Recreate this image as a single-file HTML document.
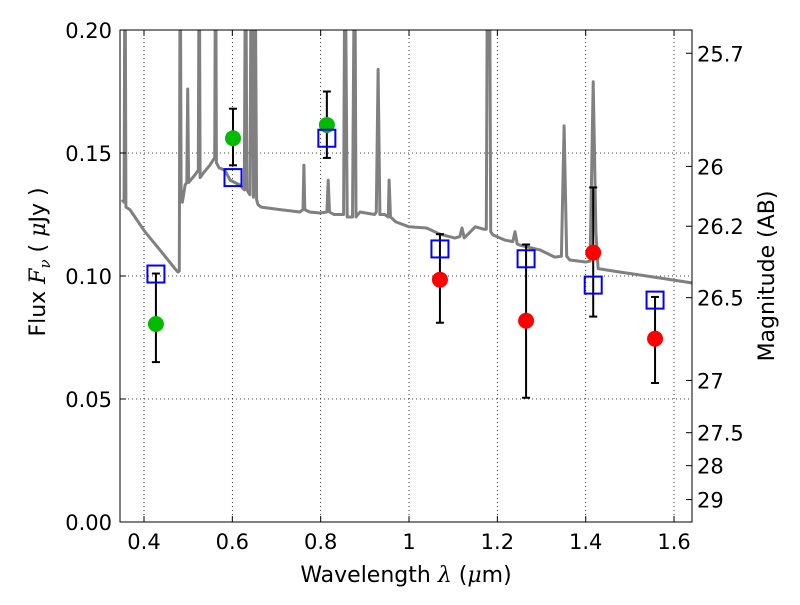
<!DOCTYPE html>
<html><head><meta charset="utf-8"><style>
body{margin:0;background:#fff}
svg text{font-family:"DejaVu Sans","Liberation Sans",sans-serif;fill:#000}
</style></head><body>
<svg id="chart" width="800" height="600" xmlns="http://www.w3.org/2000/svg">
<defs><clipPath id="clip"><rect x="120" y="30" width="572" height="492"/></clipPath></defs>
<g id="grid"></g>
<g id="spec" clip-path="url(#clip)"></g>
<g id="pts"></g>
<rect x="120" y="30" width="572" height="492" fill="none" stroke="#000" stroke-width="1"/>
<g id="axes"></g>
<text x="406" y="582" font-size="22" text-anchor="middle">Wavelength  <tspan font-style="italic" font-family="DejaVu Serif,serif">λ</tspan> (<tspan font-style="italic" font-family="DejaVu Serif,serif">μ</tspan>m)</text>
<text transform="translate(45,262) rotate(-90)" font-size="22" text-anchor="middle">Flux  <tspan font-style="italic" font-family="DejaVu Serif,serif">F<tspan font-size="15" dy="5">ν</tspan></tspan><tspan dy="-5">  (  </tspan><tspan font-style="italic" font-family="DejaVu Serif,serif">μ</tspan>Jy )</text>
<text transform="translate(774,276) rotate(-90)" font-size="22" text-anchor="middle">Magnitude (AB)</text>
</svg>
<script>
const xTicks=[0.4,0.6,0.8,1.0,1.2,1.4,1.6];
const xTickLabels=["0.4","0.6","0.8","1","1.2","1.4","1.6"];
const yTicks=[0,0.05,0.10,0.15,0.20];
const yTickLabels=["0.00","0.05","0.10","0.15","0.20"];
const magTicks=[25.7,26,26.2,26.5,27,27.5,28,29];
const specLam=[0.35,0.355,0.357,0.359,0.368,0.402,0.436,0.47,0.477,0.480,0.482,0.484,0.487,0.493,0.497,0.499,0.501,0.515,0.523,0.525,0.527,0.535,0.549,0.556,0.560,0.562,0.564,0.57,0.583,0.595,0.617,0.627,0.630,0.633,0.640,0.643,0.648,0.651,0.655,0.658,0.665,0.708,0.753,0.760,0.762,0.764,0.775,0.798,0.814,0.817,0.820,0.83,0.852,0.855,0.860,0.872,0.877,0.880,0.889,0.922,0.926,0.93,0.934,0.945,0.953,0.955,0.958,0.97,1.0,1.04,1.07,1.104,1.115,1.12,1.125,1.15,1.17,1.175,1.178,1.182,1.185,1.19,1.217,1.235,1.24,1.245,1.25,1.296,1.33,1.345,1.351,1.357,1.364,1.4,1.41,1.417,1.423,1.428,1.478,1.523,1.568,1.64];
const specFlux=[0.131,0.130,0.25,0.128,0.127,0.118,0.1106,0.103,0.1016,0.102,0.25,0.135,0.13,0.137,0.138,0.176,0.138,0.141,0.143,0.25,0.14,0.142,0.145,0.147,0.148,0.25,0.146,0.144,0.143,0.139,0.137,0.135,0.25,0.135,0.133,0.25,0.132,0.25,0.131,0.129,0.128,0.127,0.126,0.127,0.145,0.127,0.126,0.1256,0.126,0.139,0.126,0.125,0.125,0.25,0.124,0.124,0.25,0.124,0.126,0.125,0.126,0.184,0.125,0.125,0.124,0.139,0.124,0.122,0.12,0.1195,0.117,0.1154,0.116,0.1195,0.1155,0.12,0.119,0.119,0.25,0.25,0.118,0.1167,0.1146,0.114,0.118,0.113,0.1126,0.1106,0.1077,0.108,0.161,0.108,0.1065,0.1057,0.106,0.179,0.118,0.103,0.1016,0.1004,0.0992,0.0972];
const obsLam=[0.427,0.6015,0.814,1.070,1.265,1.417,1.557];
const obsFlux=[0.0805,0.156,0.1614,0.0985,0.0818,0.1095,0.0745];
const obsErrLo=[0.065,0.145,0.148,0.081,0.0505,0.0835,0.0565];
const obsErrHi=[0.101,0.168,0.175,0.117,0.1128,0.136,0.0915];
const obsColor=["#00bb00","#00bb00","#00bb00","#ff0000","#ff0000","#ff0000","#ff0000"];
const modelFlux=[0.1008,0.140,0.156,0.111,0.107,0.0963,0.0902];

const NS="http://www.w3.org/2000/svg";
const xs=l=>144+(l-0.4)*441.7;
const ys=f=>522-f*2460;
function mk(tag,attrs,parent){const e=document.createElementNS(NS,tag);for(const k in attrs)e.setAttribute(k,attrs[k]);parent.appendChild(e);return e;}
const grid=document.getElementById('grid'),axes=document.getElementById('axes'),spec=document.getElementById('spec'),pts=document.getElementById('pts');
xTicks.forEach((t,i)=>{const x=xs(t);
 const g=mk('line',{x1:x,x2:x,y1:30,y2:522,stroke:'#000','stroke-dasharray':'1,3','stroke-width':0.8},grid);
 
 mk('line',{x1:x,x2:x,y1:522,y2:516,stroke:'#000'},axes);mk('line',{x1:x,x2:x,y1:30,y2:36,stroke:'#000'},axes);
 const tx=mk('text',{x:x,y:549,'font-size':21,'text-anchor':'middle'},axes);tx.textContent=xTickLabels[i];
 });
yTicks.forEach((t,i)=>{const y=ys(t);
 const g=mk('line',{x1:120,x2:692,y1:y,y2:y,stroke:'#000','stroke-dasharray':'1,3','stroke-width':0.8},grid);
 
 mk('line',{x1:120,x2:126,y1:y,y2:y,stroke:'#000'},axes);
 const tx=mk('text',{x:112,y:y+8,'font-size':21,'text-anchor':'end'},axes);tx.textContent=yTickLabels[i];
 });
magTicks.forEach(m=>{const f=Math.pow(10,(23.9-m)/2.5);const y=ys(f);
 mk('line',{x1:686,x2:692,y1:y,y2:y,stroke:'#000'},axes);
 const tx=mk('text',{x:697,y:y+8,'font-size':21},axes);tx.textContent=String(m);
 });
const d=specLam.map((l,i)=>(i?'L':'M')+xs(l).toFixed(1)+','+ys(specFlux[i]).toFixed(1)).join(' ');
const p=mk('path',{d:d,fill:'none',stroke:'#808080','stroke-width':3,'stroke-linejoin':'round'},spec);

obsLam.forEach((l,i)=>{const x=xs(l);
 const e=mk('g',{},pts);
 mk('line',{x1:x,x2:x,y1:ys(obsErrLo[i]),y2:ys(obsErrHi[i]),stroke:'#000','stroke-width':2},e);
 mk('line',{x1:x-4,x2:x+4,y1:ys(obsErrLo[i]),y2:ys(obsErrLo[i]),stroke:'#000','stroke-width':2},e);
 mk('line',{x1:x-4,x2:x+4,y1:ys(obsErrHi[i]),y2:ys(obsErrHi[i]),stroke:'#000','stroke-width':2},e);
 const c=mk('circle',{cx:x,cy:ys(obsFlux[i]),r:8,fill:obsColor[i]},pts);
 
 const s=mk('rect',{x:x-8.5,y:ys(modelFlux[i])-8.5,width:17,height:17,fill:'none',stroke:'#0000ff','stroke-width':2},pts);
 });
</script>
</body></html>
